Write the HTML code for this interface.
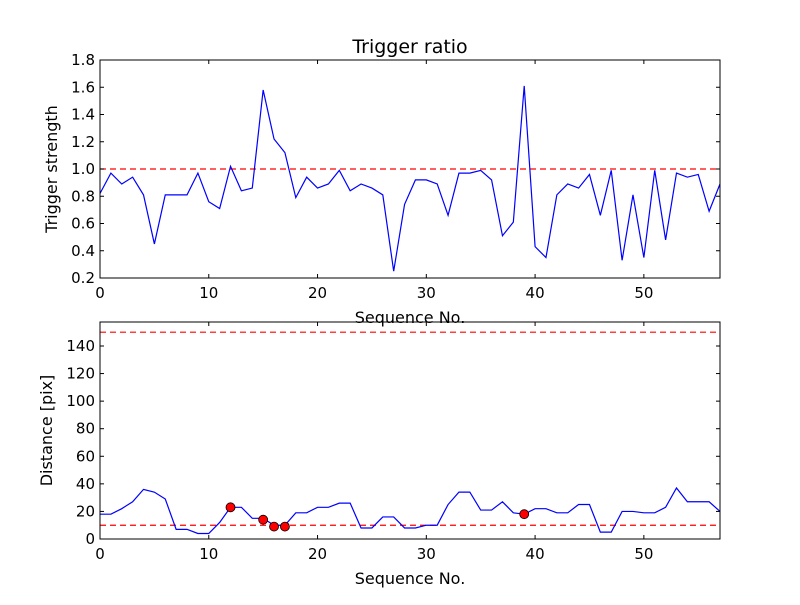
<!DOCTYPE html>
<html><head><meta charset="utf-8"><style>
body{margin:0;background:#fff;}
svg text{font-family:"DejaVu Sans","Liberation Sans",sans-serif;fill:#000;}
</style></head><body>
<svg id="c" width="800" height="600"></svg>
<script>
const seq = Array.from({length:58},(_,i)=>i);
const strength=[0.82,0.97,0.89,0.94,0.81,0.45,0.81,0.81,0.81,0.97,0.76,0.71,1.02,0.84,0.86,1.58,1.22,1.12,0.79,0.94,0.86,0.89,0.99,0.84,0.89,0.86,0.81,0.25,0.74,0.92,0.92,0.89,0.66,0.97,0.97,0.99,0.92,0.51,0.61,1.61,0.43,0.35,0.81,0.89,0.86,0.96,0.66,0.99,0.33,0.81,0.35,0.99,0.48,0.97,0.94,0.96,0.69,0.89];
const distance=[18,18,22,27,36,34,29,7,7,4,4,12,23,23,15,15,10,10,19,19,23,23,26,26,8,8,16,16,8,8,10,10,25,34,34,21,21,27,19,18,22,22,19,19,25,25,5,5,20,20,19,19,23,37,27,27,27,20];
const markerIdx=[12,15,16,17,39];
const markerVal=[23,14,9,9,18];
const topTicks=[0.2,0.4,0.6,0.8,1.0,1.2,1.4,1.6,1.8];
const botTicks=[0,20,40,60,80,100,120,140];
const xTicks=[0,10,20,30,40,50];
const NS='http://www.w3.org/2000/svg';
const svg=document.getElementById('c');
function mk(t,a,p){const e=document.createElementNS(NS,t);for(const k in a)e.setAttribute(k,a[k]);(p||svg).appendChild(e);return e;}
const X0=100,X1=720;
const xs=v=>X0+(v-0)/(57-0)*(X1-X0);
function axes(name,top,bot,ymin,ymax,yt,fmt,data,ylabel,thresholds){
  const ys=v=>bot-(v-ymin)/(ymax-ymin)*(bot-top);
  const g=mk('g',{});
  
  
  thresholds.forEach(t=>{const l=mk('line',{x1:X0,x2:X1,y1:ys(t),y2:ys(t),stroke:'#f00','stroke-width':1.2,'stroke-dasharray':'6,4'},g);
    });
  const pl=mk('polyline',{points:data.map((v,i)=>xs(seq[i])+','+ys(v)).join(' '),fill:'none',stroke:'#00f','stroke-width':1.2},g);
  
  const fr=mk('rect',{x:X0,y:top,width:X1-X0,height:bot-top,fill:'none',stroke:'#000','stroke-width':1},g);
  
  yt.forEach(t=>{const y=ys(t);mk('line',{x1:X0,x2:X0+4,y1:y,y2:y,stroke:'#000'},g);mk('line',{x1:X1,x2:X1-4,y1:y,y2:y,stroke:'#000'},g);
    const tx=mk('text',{x:X0-5,y:y+5,'text-anchor':'end','font-size':15},g);tx.textContent=fmt(t);
    });
  xTicks.forEach(t=>{const x=xs(t);mk('line',{x1:x,x2:x,y1:bot,y2:bot-4,stroke:'#000'},g);mk('line',{x1:x,x2:x,y1:top,y2:top+4,stroke:'#000'},g);
    const tx=mk('text',{x:x,y:bot+20,'text-anchor':'middle','font-size':15},g);tx.textContent=t;
    });
  const xl=mk('text',{x:410,y:bot+45,'text-anchor':'middle','font-size':16},g);xl.textContent='Sequence No.';
  
  const yl=mk('text',{x:0,y:0,'text-anchor':'middle','font-size':16,transform:`translate(${name==='top-panel'?57:52},${(top+bot)/2}) rotate(-90)`},g);yl.textContent=ylabel;
  
  return ys;
}
axes('top-panel',60,278,0.2,1.8,topTicks,v=>v.toFixed(1),strength,'Trigger strength',[1.0]);
const ys2=axes('bottom-panel',322,539,0,157.4,botTicks,v=>v,distance,'Distance [pix]',[10,150]);
markerIdx.forEach((m,k)=>{const c=mk('circle',{cx:xs(m),cy:ys2(markerVal[k]),r:4.5,fill:'#f00',stroke:'#000','stroke-width':0.8});
  });
const t=mk('text',{x:410,y:53,'text-anchor':'middle','font-size':19});t.textContent='Trigger ratio';

</script>
</body></html>
